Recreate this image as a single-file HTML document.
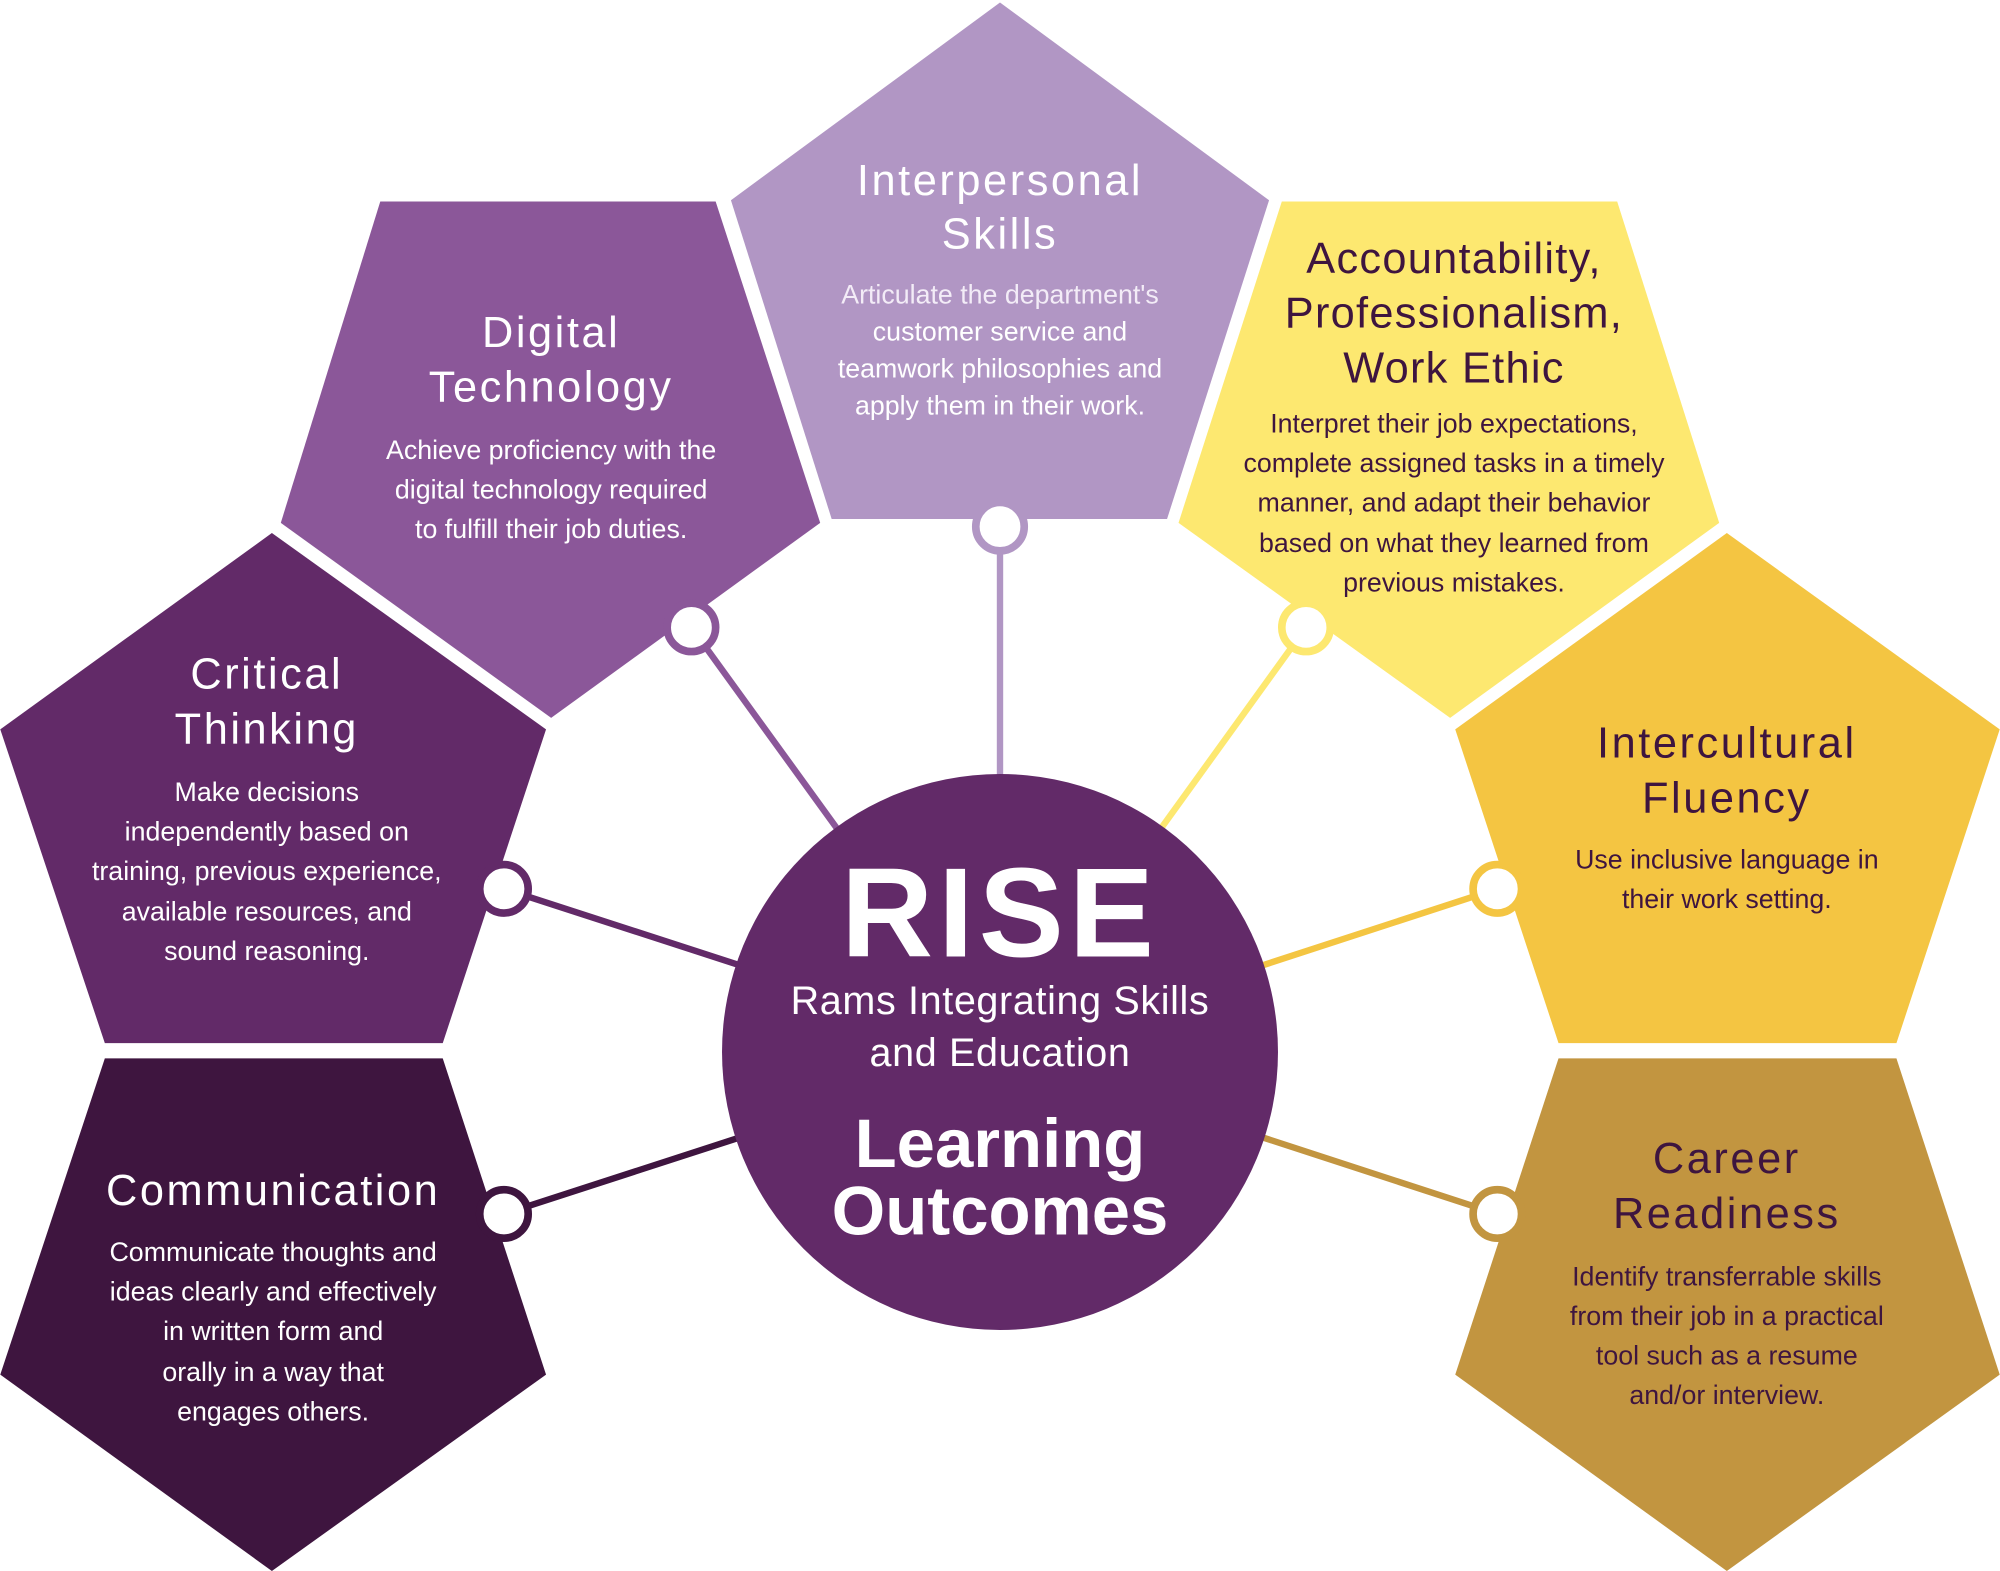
<!DOCTYPE html>
<html><head><meta charset="utf-8"><style>
html,body{margin:0;padding:0;background:#fff;}
svg{display:block;}
.t{font-family:"Liberation Sans",sans-serif;font-size:34px;text-anchor:middle;letter-spacing:2px;}
.b{font-family:"Liberation Sans Narrow","Liberation Sans",sans-serif;font-size:21px;text-anchor:middle;}
</style></head><body>
<svg width="2000" height="1571" viewBox="0 0 1568 1232" xmlns="http://www.w3.org/2000/svg">
<rect width="1568" height="1232" fill="#fff"/>
<polygon points="784,2 995,157 915,407 652,407 573,157" fill="#b196c4"/>
<polygon points="298,158 561,158 643,410 432,563 220,410" fill="#8b5799"/>
<polygon points="1005,158 1268,158 1348,410 1137,563 924,410" fill="#fde870"/>
<polygon points="213,418 428,572 347,818 82,818 0,572" fill="#622a68"/>
<polygon points="1354,418 1568,572 1487,818 1222,818 1141,572" fill="#f4c542"/>
<polygon points="82,830 347,830 428,1078 213,1232 0,1078" fill="#3e153f"/>
<polygon points="1222,830 1487,830 1568,1078 1354,1232 1141,1078" fill="#c29540"/>
<g stroke-width="5">
<line x1="784" y1="413" x2="784" y2="610" stroke="#b196c4"/>
<line x1="542" y1="492" x2="660" y2="655" stroke="#8b5799"/>
<line x1="1024" y1="492" x2="910" y2="650" stroke="#fde870"/>
<line x1="395" y1="697" x2="580" y2="757" stroke="#622a68"/>
<line x1="1174" y1="697" x2="990" y2="757" stroke="#f4c542"/>
<line x1="395" y1="952" x2="580" y2="892" stroke="#3e153f"/>
<line x1="1174" y1="952" x2="990" y2="892" stroke="#c29540"/>
</g>
<g fill="#fff" stroke-width="6">
<circle cx="784" cy="413" r="19" stroke="#b196c4"/>
<circle cx="542" cy="492" r="19" stroke="#8b5799"/>
<circle cx="1024" cy="492" r="19" stroke="#fde870"/>
<circle cx="395" cy="697" r="19" stroke="#622a68"/>
<circle cx="1174" cy="697" r="19" stroke="#f4c542"/>
<circle cx="395" cy="952" r="19" stroke="#3e153f"/>
<circle cx="1174" cy="952" r="19" stroke="#c29540"/>
</g>
<circle cx="784" cy="825" r="218" fill="#622a68"/>
<text x="784" y="750" fill="#fff" font-family="Liberation Sans,sans-serif" font-weight="bold" font-size="100" text-anchor="middle" letter-spacing="4">RISE</text>
<text x="784" y="795" fill="#fff" class="t" style="font-size:31px;letter-spacing:0.5px">Rams Integrating Skills</text>
<text x="784" y="836" fill="#fff" class="t" style="font-size:31px;letter-spacing:0.5px">and Education</text>
<text x="784" y="915" fill="#fff" font-family="Liberation Sans,sans-serif" font-weight="bold" font-size="54" text-anchor="middle">Learning</text>
<text x="784" y="968" fill="#fff" font-family="Liberation Sans,sans-serif" font-weight="bold" font-size="54" text-anchor="middle">Outcomes</text>
<g fill="#fff">
<text class="t" x="784" y="153">Interpersonal</text>
<text class="t" x="784" y="195">Skills</text>
<text class="b" x="784" y="238" fill="#f3ecf7">Articulate the department's</text>
<text class="b" x="784" y="267">customer service and</text>
<text class="b" x="784" y="296">teamwork philosophies and</text>
<text class="b" x="784" y="325">apply them in their work.</text>
<text class="t" x="432" y="272">Digital</text>
<text class="t" x="432" y="315">Technology</text>
<text class="b" x="432" y="360">Achieve proficiency with the</text>
<text class="b" x="432" y="391">digital technology required</text>
<text class="b" x="432" y="422">to fulfill their job duties.</text>
<text class="t" x="209" y="540">Critical</text>
<text class="t" x="209" y="583">Thinking</text>
<text class="b" x="209" y="628">Make decisions</text>
<text class="b" x="209" y="659">independently based on</text>
<text class="b" x="209" y="690">training, previous experience,</text>
<text class="b" x="209" y="722">available resources, and</text>
<text class="b" x="209" y="753">sound reasoning.</text>
<text class="t" x="214" y="945">Communication</text>
<text class="b" x="214" y="989">Communicate thoughts and</text>
<text class="b" x="214" y="1020">ideas clearly and effectively</text>
<text class="b" x="214" y="1051">in written form and</text>
<text class="b" x="214" y="1083">orally in a way that</text>
<text class="b" x="214" y="1114">engages others.</text>
</g>
<g fill="#3e153f">
<text class="t" x="1140" y="214" style="letter-spacing:1px">Accountability,</text>
<text class="t" x="1140" y="257" style="letter-spacing:1px">Professionalism,</text>
<text class="t" x="1140" y="300" style="letter-spacing:1px">Work Ethic</text>
<text class="b" x="1140" y="339">Interpret their job expectations,</text>
<text class="b" x="1140" y="370">complete assigned tasks in a timely</text>
<text class="b" x="1140" y="401">manner, and adapt their behavior</text>
<text class="b" x="1140" y="433">based on what they learned from</text>
<text class="b" x="1140" y="464">previous mistakes.</text>
<text class="t" x="1354" y="594">Intercultural</text>
<text class="t" x="1354" y="637">Fluency</text>
<text class="b" x="1354" y="681">Use inclusive language in</text>
<text class="b" x="1354" y="712">their work setting.</text>
<text class="t" x="1354" y="920">Career</text>
<text class="t" x="1354" y="963">Readiness</text>
<text class="b" x="1354" y="1008">Identify transferrable skills</text>
<text class="b" x="1354" y="1039">from their job in a practical</text>
<text class="b" x="1354" y="1070">tool such as a resume</text>
<text class="b" x="1354" y="1101">and/or interview.</text>
</g>
</svg>
</body></html>
